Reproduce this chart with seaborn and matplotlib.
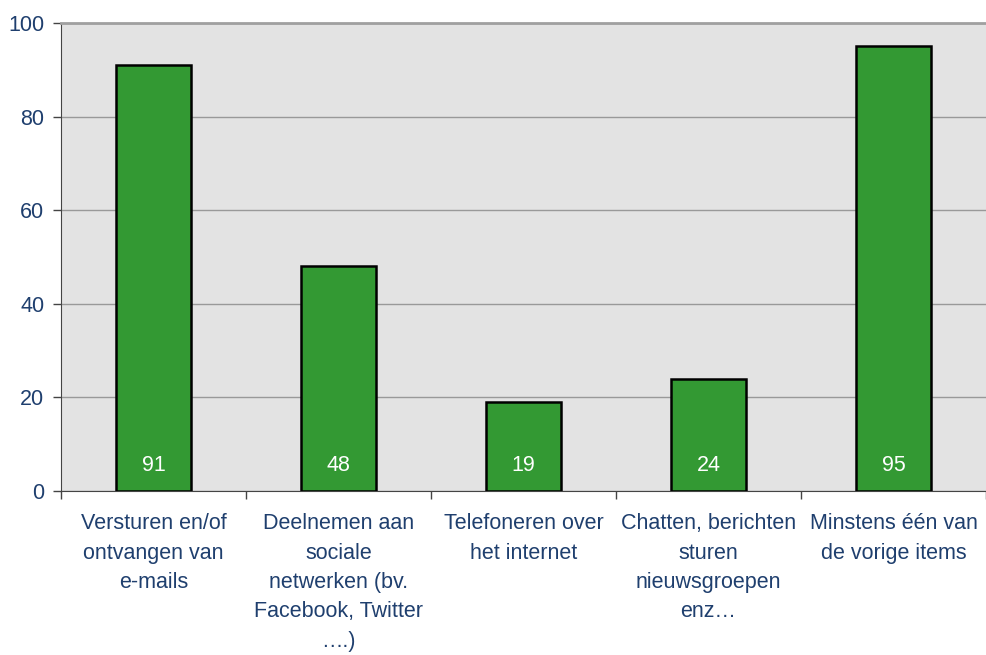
import pandas as pd
import matplotlib.pyplot as plt
import seaborn as sns

# Data
categories = [
    "Versturen en/of\nontvangen van\ne-mails",
    "Deelnemen aan\nsociale\nnetwerken (bv.\nFacebook, Twitter\n….)",
    "Telefoneren over\nhet internet",
    "Chatten, berichten\nsturen\nnieuwsgroepen\nenz…",
    "Minstens één van\nde vorige items",
]
values = [91, 48, 19, 24, 95]
y_ticks = [0, 20, 40, 60, 80, 100]

df = pd.DataFrame({"item": categories, "pct": values})

sns.set_style("white")
plt.rcParams["font.family"] = ["Liberation Sans", "DejaVu Sans"]
text_col = "#1F3F6E"
fs = 15.5

fig, ax = plt.subplots(figsize=(9.87, 6.55), dpi=100)
fig.subplots_adjust(left=61/987, right=0.999, top=1-23/655, bottom=1-491/655)

sns.barplot(data=df, x="item", y="pct", color="#339933", edgecolor="black",
            linewidth=1.8, width=0.41, saturation=1, ax=ax, zorder=3)

ax.set_facecolor("#E3E3E3")
ax.set_xlim(-0.5, len(categories) - 0.5)
ax.set_ylim(0, 100)
ax.set_yticks(y_ticks)
ax.yaxis.grid(True, color="#999999", linewidth=1, zorder=0)
ax.set_xlabel("")
ax.set_ylabel("")

# category labels centred, tick marks between categories
ax.set_xticks(range(len(categories)))
ax.set_xticklabels(categories, fontsize=fs, color=text_col, linespacing=1.52, va="top")
ax.tick_params(axis="x", which="major", length=0, pad=16)
ax.set_xticks([i - 0.5 for i in range(len(categories) + 1)], minor=True)
ax.tick_params(axis="x", which="minor", bottom=True, length=6, width=1,
               color="#444444", direction="out")
ax.tick_params(axis="y", left=True, length=6, width=1, color="#444444", direction="out",
               labelsize=fs, labelcolor=text_col, pad=6)

ax.spines["right"].set_visible(False)
ax.spines["top"].set_color("#A0A0A0")
ax.spines["top"].set_linewidth(2)
ax.spines["left"].set_color("#444444")
ax.spines["bottom"].set_color("#444444")

for i, v in enumerate(values):
    ax.text(i, 5.5, str(v), ha="center", va="center", color="white", fontsize=fs, zorder=4)

fig.savefig("out.png", dpi=100)
